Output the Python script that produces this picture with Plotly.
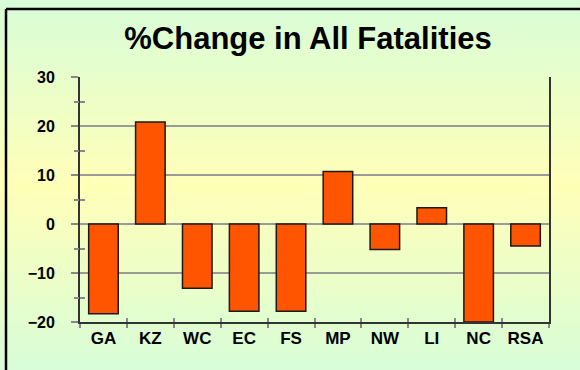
import plotly.graph_objects as go

# Provinces and the percentage change in all fatalities
regions = ["GA", "KZ", "WC", "EC", "FS", "MP", "NW", "LI", "NC", "RSA"]
pct_change = [-18.3, 20.8, -13.1, -17.8, -17.8, 10.7, -5.2, 3.3, -20.0, -4.5]

y_ticks = [-20, -10, 0, 10, 20, 30]
y_minor = [-15, -5, 5, 15, 25]

W, H = 580, 370
L, R, T, B = 80, 31, 77, 48
PW, PH = W - L - R, H - T - B


def px_x(px):
    return (px - L) / PW


def px_y(py):
    return 1 - (py - T) / PH


def lerp(c1, c2, f):
    return "#%02x%02x%02x" % tuple(round(a + (b - a) * f) for a, b in zip(c1, c2))


green = (216, 253, 216)
yellow = (255, 255, 184)
mid = 185

shapes = []
step = 4
for top in range(0, H, step):
    c = top + step / 2
    if c < mid:
        f = c / mid
    else:
        f = 1 - (c - mid) / (H - mid)
    shapes.append(dict(
        type="rect", xref="paper", yref="paper", layer="below",
        x0=px_x(0), x1=px_x(W), y0=px_y(top + step + 0.5), y1=px_y(top),
        fillcolor=lerp(green, yellow, max(0, min(1, f))), line_width=0,
    ))

# frame around the chart
shapes.append(dict(type="line", xref="paper", yref="paper",
                   x0=px_x(6), x1=px_x(W + 5), y0=px_y(9), y1=px_y(9),
                   line=dict(color="black", width=2.5)))
shapes.append(dict(type="line", xref="paper", yref="paper",
                   x0=px_x(6), x1=px_x(6), y0=px_y(9), y1=px_y(H + 5),
                   line=dict(color="black", width=2.5)))

fig = go.Figure()
fig.add_trace(go.Bar(
    x=regions, y=pct_change,
    marker=dict(color="#FF5500", line=dict(color="#1a1a1a", width=1.5)),
    hoverinfo="x+y",
))
# invisible traces to drive the overlay axes carrying the extra ticks
fig.add_trace(go.Scatter(x=regions, y=pct_change, xaxis="x2", yaxis="y2",
                         mode="markers", marker=dict(opacity=0), hoverinfo="skip",
                         showlegend=False))
fig.add_trace(go.Scatter(x=regions, y=pct_change, xaxis="x", yaxis="y3",
                         mode="markers", marker=dict(opacity=0), hoverinfo="skip",
                         showlegend=False))

FONT = "Liberation Sans, Arial, sans-serif"

fig.update_layout(
    width=W, height=H,
    margin=dict(l=L, r=R, t=T, b=B, autoexpand=False),
    paper_bgcolor="rgba(0,0,0,0)",
    plot_bgcolor="rgba(0,0,0,0)",
    showlegend=False,
    bargap=0.37,
    shapes=shapes,
    title=dict(
        text="%Change in All Fatalities",
        font=dict(family=FONT, size=31, color="black", weight="bold"),
        x=308 / W, xanchor="center", xref="container",
        y=1 - 38 / H, yanchor="middle", yref="container",
    ),
    xaxis=dict(
        type="category", categoryorder="array", categoryarray=regions,
        range=[-0.5, 9.5], tickangle=0, automargin=False,
        tickson="boundaries", ticks="outside", ticklen=4, tickwidth=2,
        tickcolor="#888888",
        showline=True, linecolor="#333333", linewidth=2,
        showgrid=False, zeroline=False,
        tickfont=dict(family=FONT, size=17, color="black", weight="bold"),
    ),
    xaxis2=dict(
        type="category", categoryorder="array", categoryarray=regions,
        range=[-0.5, 9.5], overlaying="x", anchor="y",
        tickson="boundaries", ticks="inside", ticklen=4, tickwidth=2,
        tickcolor="#888888", showticklabels=False, showgrid=False, zeroline=False,
    ),
    yaxis=dict(
        range=[-20, 30], tickvals=y_ticks, automargin=False,
        ticks="outside", ticklen=7, tickwidth=2, tickcolor="#888888",
        showline=True, linecolor="#333333", linewidth=2, mirror=True,
        showgrid=True, gridcolor="#9a9a9a", gridwidth=2,
        zeroline=True, zerolinecolor="#9a9a9a", zerolinewidth=2,
        tickfont=dict(family=FONT, size=16, color="black", weight="bold"),
        ticklabelstandoff=13,
    ),
    yaxis2=dict(
        range=[-20, 30], overlaying="y", anchor="x", side="left",
        tickvals=y_minor, ticks="outside", ticklen=5, tickwidth=2,
        tickcolor="#888888", showticklabels=False, showgrid=False, zeroline=False,
    ),
    yaxis3=dict(
        range=[-20, 30], overlaying="y", anchor="x", side="left",
        tickvals=y_minor, ticks="inside", ticklen=5, tickwidth=2,
        tickcolor="#888888", showticklabels=False, showgrid=False, zeroline=False,
    ),
)

fig.write_html("out.html")
